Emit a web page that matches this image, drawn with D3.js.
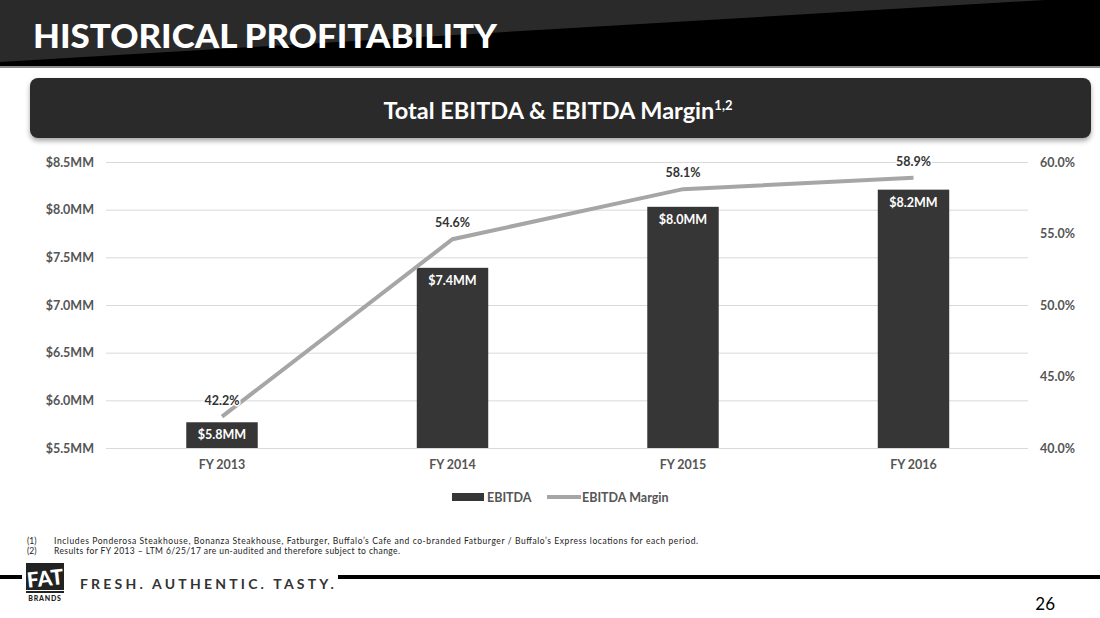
<!DOCTYPE html>
<head>
  <meta charset="utf-8">
  <script src="https://cdn.jsdelivr.net/npm/d3@7"></script>
  <style>
    body { margin:0; background:#fff; }
    svg { display:block; font-family: Lato, "DejaVu Sans", sans-serif; }
  </style>
</head>
<body>
<script>
// chart data
var years = ["FY 2013", "FY 2014", "FY 2015", "FY 2016"];
var ebitda = [5.77, 7.39, 8.03, 8.21];
var ebitdaLabels = ["$5.8MM", "$7.4MM", "$8.0MM", "$8.2MM"];
var margin = [42.2, 54.6, 58.1, 58.9];
var leftTicks = [5.5, 6.0, 6.5, 7.0, 7.5, 8.0, 8.5];
var rightTicks = [40, 45, 50, 55, 60];
var footnotes = [
  ["(1)", "Includes Ponderosa Steakhouse, Bonanza Steakhouse, Fatburger, Buffalo\u2019s Cafe and co-branded Fatburger / Buffalo\u2019s Express locations for each period."],
  ["(2)", "Results for FY 2013 \u2013 LTM 6/25/17 are un-audited and therefore subject to change."]
];
var footLen = [644, 346];

var W = 1100, H = 618;
var svg = d3.select("body").append("svg").attr("width", W).attr("height", H);

var defs = svg.append("defs");
var f = defs.append("filter").attr("id", "shadow").attr("x", "-5%").attr("y", "-20%").attr("width", "110%").attr("height", "150%");
f.append("feDropShadow").attr("dx", 0).attr("dy", 3).attr("stdDeviation", 2.5).attr("flood-color", "#000").attr("flood-opacity", 0.35);

// header band
svg.append("rect").attr("x", 0).attr("y", 0).attr("width", W).attr("height", 66).attr("fill", "#000");
svg.append("path").attr("d", "M0,0 L1045,0 L0,62 Z").attr("fill", "#2a2a2a");
svg.append("rect").attr("x", 0).attr("y", 66).attr("width", W).attr("height", 2).attr("fill", "#8c8c8c");
svg.append("text").attr("x", 33).attr("y", 48)
  .attr("fill", "#fff").attr("font-size", 32).attr("font-weight", 900)
  .attr("textLength", 464).attr("lengthAdjust", "spacingAndGlyphs")
  .text("HISTORICAL PROFITABILITY");

// title box
svg.append("rect").attr("x", 30).attr("y", 78).attr("width", 1061).attr("height", 60).attr("rx", 8)
  .attr("fill", "#2b2b2b").attr("filter", "url(#shadow)");
var tt = svg.append("text").attr("x", 558).attr("y", 119).attr("text-anchor", "middle")
  .attr("fill", "#fff").attr("font-size", 23.5).attr("font-weight", 700);
tt.append("tspan").text("Total EBITDA & EBITDA Margin");
tt.append("tspan").attr("font-size", 13).attr("dy", -9).text("1,2");

// scales
var x = d3.scaleBand().domain(years).range([106.75, 1028.75]).paddingInner(0.69).paddingOuter(0.345);
var y = d3.scaleLinear().domain([5.5, 8.5]).range([448, 162]);
var y2 = d3.scaleLinear().domain([40, 60]).range([448, 162]);

// gridlines + left axis
var gl = svg.append("g").attr("transform", "translate(106,0)")
  .call(d3.axisLeft(y).tickValues(leftTicks).tickSize(-922).tickPadding(12)
    .tickFormat(function(d) { return "$" + d.toFixed(1) + "MM"; }));
gl.select(".domain").remove();
gl.selectAll(".tick line").attr("stroke", "#d9d9d9").attr("stroke-width", 1);
gl.selectAll(".tick text").attr("fill", "#555").attr("font-size", 12.5).attr("font-weight", 700)
  .attr("font-family", "Lato, sans-serif");

// right axis
var gr = svg.append("g").attr("transform", "translate(1040,0)")
  .call(d3.axisRight(y2).tickValues(rightTicks).tickSize(0).tickPadding(0)
    .tickFormat(function(d) { return d.toFixed(1) + "%"; }));
gr.select(".domain").remove();
gr.selectAll(".tick text").attr("fill", "#555").attr("font-size", 12.5).attr("font-weight", 700)
  .attr("font-family", "Lato, sans-serif");

// bottom axis labels
var gx = svg.append("g").attr("transform", "translate(0,448)")
  .call(d3.axisBottom(x).tickSize(0).tickPadding(12));
gx.select(".domain").remove();
gx.selectAll(".tick text").attr("fill", "#555").attr("font-size", 12.5).attr("font-weight", 700)
  .attr("font-family", "Lato, sans-serif");

// bars
svg.selectAll("rect.bar").data(ebitda).enter().append("rect").attr("class", "bar")
  .attr("x", function(d, i) { return x(years[i]); })
  .attr("width", x.bandwidth())
  .attr("y", function(d) { return y(d); })
  .attr("height", function(d) { return y(5.5) - y(d); })
  .attr("fill", "#363636");

svg.selectAll("text.barlab").data(ebitda).enter().append("text").attr("class", "barlab")
  .attr("x", function(d, i) { return x(years[i]) + x.bandwidth() / 2; })
  .attr("y", function(d) { return y(d) + 17; })
  .attr("text-anchor", "middle").attr("fill", "#fff").attr("font-size", 12.5).attr("font-weight", 700)
  .text(function(d, i) { return ebitdaLabels[i]; });

// margin line
var line = d3.line()
  .x(function(d, i) { return x(years[i]) + x.bandwidth() / 2; })
  .y(function(d) { return y2(d); });
svg.append("path").datum(margin).attr("d", line)
  .attr("fill", "none").attr("stroke", "#a6a6a6").attr("stroke-width", 4);

svg.selectAll("text.linelab").data(margin).enter().append("text").attr("class", "linelab")
  .attr("x", function(d, i) { return x(years[i]) + x.bandwidth() / 2; })
  .attr("y", function(d) { return y2(d) - 12; })
  .attr("text-anchor", "middle").attr("fill", "#333").attr("font-size", 12.5).attr("font-weight", 700)
  .attr("stroke", "#fff").attr("stroke-width", 3).attr("paint-order", "stroke")
  .text(function(d) { return d.toFixed(1) + "%"; });

// legend
var lg = svg.append("g");
lg.append("rect").attr("x", 452).attr("y", 493).attr("width", 32).attr("height", 8).attr("fill", "#363636");
lg.append("text").attr("x", 487).attr("y", 502).attr("fill", "#555").attr("font-size", 12.5).attr("font-weight", 700).text("EBITDA");
lg.append("line").attr("x1", 547).attr("x2", 581).attr("y1", 497).attr("y2", 497).attr("stroke", "#a6a6a6").attr("stroke-width", 4);
lg.append("text").attr("x", 582).attr("y", 502).attr("fill", "#555").attr("font-size", 12.5).attr("font-weight", 700).text("EBITDA Margin");

// footnotes
var fn = svg.append("g").attr("font-size", 8.5).attr("fill", "#222");
footnotes.forEach(function(n, i) {
  fn.append("text").attr("x", 27).attr("y", 544 + i * 9.5).text(n[0]);
  fn.append("text").attr("x", 54).attr("y", 544 + i * 9.5)
    .attr("textLength", footLen[i]).attr("lengthAdjust", "spacing").text(n[1]);
});

// footer
svg.append("rect").attr("x", 0).attr("y", 575).attr("width", 22).attr("height", 4).attr("fill", "#000");
svg.append("rect").attr("x", 338).attr("y", 575).attr("width", W - 338).attr("height", 4).attr("fill", "#000");
var logo = svg.append("g");
logo.append("rect").attr("x", 26).attr("y", 563).attr("width", 38).attr("height", 27).attr("fill", "#222");
logo.append("text").attr("x", 45).attr("y", 586).attr("text-anchor", "middle").attr("fill", "#fff")
  .attr("font-size", 21).attr("font-weight", 900).attr("transform", "rotate(-6,45,578)").text("FAT");
logo.append("rect").attr("x", 26).attr("y", 591).attr("width", 38).attr("height", 2).attr("fill", "#222");
logo.append("text").attr("x", 45).attr("y", 601).attr("text-anchor", "middle").attr("fill", "#222")
  .attr("font-size", 7).attr("font-weight", 900).attr("letter-spacing", 0.8).text("BRANDS");
svg.append("text").attr("x", 80).attr("y", 589).attr("fill", "#333").attr("font-size", 14).attr("font-weight", 700)
  .attr("letter-spacing", 3.2).text("FRESH. AUTHENTIC. TASTY.");
svg.append("text").attr("x", 1055).attr("y", 610).attr("text-anchor", "end").attr("fill", "#000")
  .attr("font-size", 17).text("26");
</script>
</body>
